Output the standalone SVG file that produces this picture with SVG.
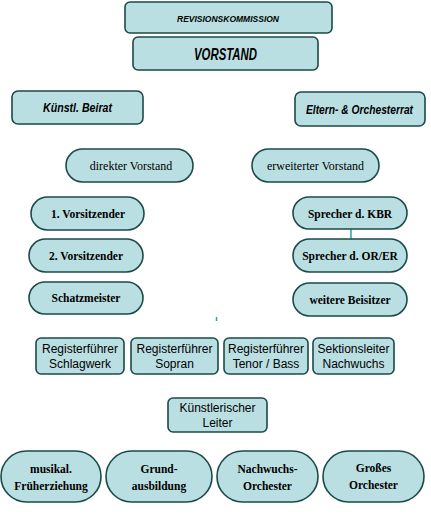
<svg xmlns="http://www.w3.org/2000/svg" width="431" height="517" viewBox="0 0 431 517">
<style>
.b{fill:#badfe2;stroke:#1b4a48;stroke-width:1.6}
.h{font-family:"Liberation Sans Narrow","Liberation Sans",sans-serif;font-style:italic;font-weight:bold;fill:#000;text-anchor:middle}
.s{font-family:"Liberation Serif",serif;fill:#000;text-anchor:middle;font-size:12px}
.sb{font-family:"Liberation Serif",serif;font-weight:bold;fill:#000;text-anchor:middle;font-size:11.5px}
.a{font-family:"Liberation Sans",sans-serif;fill:#000;text-anchor:middle;font-size:12px}
.c{stroke:#2aa3a3;stroke-width:1.5;fill:none}
</style>
<rect width="431" height="517" fill="#fff"/>
<g id="connectors">
<line class="c" x1="351" y1="229" x2="351" y2="239"/>
<line class="c" x1="216.5" y1="317" x2="216.5" y2="321"/>
</g>
<g id="revisionskommission"><rect class="b" x="125" y="2" width="207" height="31" rx="5"/><text class="h" x="228" y="21.5" font-size="9.5" textLength="102" lengthAdjust="spacingAndGlyphs">REVISIONSKOMMISSION</text></g>
<g id="vorstand"><rect class="b" x="133" y="37" width="185" height="33" rx="5"/><text class="h" x="225.5" y="60" font-size="17" textLength="63" lengthAdjust="spacingAndGlyphs">VORSTAND</text></g>
<g id="kuenstl-beirat"><rect class="b" x="12" y="91" width="131" height="33" rx="6"/><text class="h" x="77.5" y="112" font-size="12.5" textLength="69" lengthAdjust="spacingAndGlyphs">Künstl. Beirat</text></g>
<g id="eltern-orchesterrat"><rect class="b" x="295" y="92" width="130" height="34" rx="6"/><text class="h" transform="translate(359.5 113.5) scale(1 1.25)" x="0" y="0" font-size="10" textLength="107" lengthAdjust="spacingAndGlyphs">Eltern- &amp; Orchesterrat</text></g>
<g id="direkter-vorstand"><rect class="b" x="66" y="149" width="127" height="33" rx="16.5"/><text class="s" x="131" y="170">direkter Vorstand</text></g>
<g id="erweiterter-vorstand"><rect class="b" x="252" y="149" width="127" height="33" rx="16.5"/><text class="s" x="315.5" y="170">erweiterter Vorstand</text></g>
<g id="vorsitzender1"><rect class="b" x="31" y="197" width="113" height="33" rx="16.5"/><text class="sb" x="88" y="218">1. Vorsitzender</text></g>
<g id="vorsitzender2"><rect class="b" x="29" y="239" width="114" height="33" rx="16.5"/><text class="sb" x="86" y="260">2. Vorsitzender</text></g>
<g id="schatzmeister"><rect class="b" x="29" y="282" width="114" height="32" rx="16"/><text class="sb" x="86" y="302">Schatzmeister</text></g>
<g id="sprecher-kbr"><rect class="b" x="293" y="197" width="114" height="32" rx="16"/><text class="sb" x="350" y="217.5">Sprecher d. KBR</text></g>
<g id="sprecher-orer"><rect class="b" x="293" y="239" width="114" height="33" rx="16.5"/><text class="sb" x="350" y="260">Sprecher d. OR/ER</text></g>
<g id="weitere-beisitzer"><rect class="b" x="293" y="283" width="114" height="33" rx="16.5"/><text class="sb" x="350" y="304">weitere Beisitzer</text></g>
<g id="rf-schlagwerk"><rect class="b" x="36" y="338" width="88" height="36" rx="5"/><text class="a" x="80" y="353">Registerführer</text><text class="a" x="80" y="368">Schlagwerk</text></g>
<g id="rf-sopran"><rect class="b" x="131" y="338" width="87" height="36" rx="5"/><text class="a" x="174.5" y="353">Registerführer</text><text class="a" x="174.5" y="368">Sopran</text></g>
<g id="rf-tenor-bass"><rect class="b" x="224" y="338" width="84" height="36" rx="5"/><text class="a" x="266" y="353">Registerführer</text><text class="a" x="266" y="368">Tenor / Bass</text></g>
<g id="sl-nachwuchs"><rect class="b" x="313" y="338" width="81" height="36" rx="5"/><text class="a" x="353.5" y="353">Sektionsleiter</text><text class="a" x="353.5" y="368">Nachwuchs</text></g>
<g id="kuenstl-leiter"><rect class="b" x="168" y="398" width="99" height="34" rx="5"/><text class="a" x="217.5" y="412">Künstlerischer</text><text class="a" x="217.5" y="427">Leiter</text></g>
<g id="frueherziehung"><rect class="b" x="1" y="451" width="100" height="51" rx="25.5"/><text class="sb" x="51" y="473">musikal.</text><text class="sb" x="51" y="490">Früherziehung</text></g>
<g id="grundausbildung"><rect class="b" x="106" y="451" width="106" height="51" rx="25.5"/><text class="sb" x="159" y="473">Grund-</text><text class="sb" x="159" y="490">ausbildung</text></g>
<g id="nachwuchsorchester"><rect class="b" x="217" y="451" width="101" height="51" rx="25.5"/><text class="sb" x="267.5" y="473">Nachwuchs-</text><text class="sb" x="267.5" y="490">Orchester</text></g>
<g id="grosses-orchester"><rect class="b" x="323" y="451" width="101" height="51" rx="25.5"/><text class="sb" x="373.5" y="472">Großes</text><text class="sb" x="373.5" y="489">Orchester</text></g>
</svg>
